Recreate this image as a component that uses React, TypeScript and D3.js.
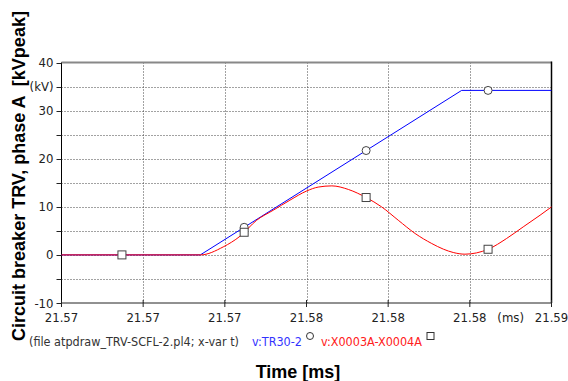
import React from 'react';
import * as d3 from 'd3';

// time axis (ms) and voltage axis (kV)
const xTicks = [21.568, 21.571, 21.574, 21.577, 21.58, 21.583, 21.586];
const xTickLabels = ['21.57', '21.57', '21.57', '21.58', '21.58', '21.58', '21.59'];
const yGrid = [-10, -5, 0, 5, 10, 15, 20, 25, 30, 35, 40];
const yLabelValues = [-10, 0, 10, 20, 30, 35, 40];
const yLabelTexts = ['-10', '0', '10', '20', '30', '(kV)', '40'];

// v:TR30-2
const blueT = [21.568, 21.5731, 21.5827, 21.586];
const blueV = [0, 0, 34.2, 34.2];

// v:X0003A-X0004A
const redT = [
  21.568, 21.5731, 21.57394, 21.57456, 21.57517, 21.57578, 21.57639, 21.57701,
  21.57743, 21.57793, 21.57854, 21.57919, 21.57976, 21.58037, 21.58099, 21.5816,
  21.58203, 21.58239, 21.58282, 21.58325, 21.58368, 21.58435, 21.58496, 21.58558, 21.586,
];
const redV = [
  0, 0, 1.66, 3.89, 7.21, 9.29, 11.37, 13.3,
  14.1, 14.35, 13.6, 11.93, 9.98, 7.21, 4.45, 2.37,
  1.19, 0.5, 0.15, 0.42, 1.19, 3.41, 5.82, 8.25, 9.98,
];

// marker positions along the curves
const markerT = [21.57022, 21.57471, 21.57919, 21.58367];

const legendFile = '(file atpdraw_TRV-SCFL-2.pl4; x-var t)';
const legendNames = ['v:TR30-2', 'v:X0003A-X0004A'];

const W = 568;
const H = 381;
const FONT = '"DejaVu Sans Condensed", "Liberation Sans", sans-serif';
const BOLD = '"Liberation Sans", Arial, sans-serif';

const interp = (ts: number[], vs: number[], t: number) => {
  const i = Math.max(1, d3.bisectLeft(ts, t));
  const t0 = ts[i - 1], t1 = ts[i];
  return vs[i - 1] + ((vs[i] - vs[i - 1]) * (t - t0)) / (t1 - t0);
};

export default function App() {
  const x = d3.scaleLinear().domain([21.568, 21.586]).range([61.5, 551.5]);
  const y = d3.scaleLinear().domain([-10, 40]).range([303, 62.5]);

  const blueLine = d3.line<number>()
    .x((_, i) => x(blueT[i]))
    .y(d => y(d));
  const redLine = d3.line<number>()
    .x((_, i) => x(redT[i]))
    .y(d => y(d))
    .curve(d3.curveMonotoneX);

  const [x0, x1] = x.range();
  const [yb, yt] = y.range();

  return (
    <svg width={W} height={H} style={{ position: 'absolute', left: 0, top: 0, background: '#fff' }}>
      {/* grid */}
      <g stroke="#444" strokeWidth={1} strokeDasharray="1 2">
        {xTicks.slice(1, -1).map((t, i) => (
          <line key={'gx' + i} x1={Math.round(x(t)) + 0.5} x2={Math.round(x(t)) + 0.5} y1={yt} y2={yb} />
        ))}
        {yGrid.slice(1, -1).map((v, i) => (
          <line key={'gy' + i} x1={x0} x2={x1} y1={Math.round(y(v)) + 0.5} y2={Math.round(y(v)) + 0.5} />
        ))}
      </g>

      {/* frame */}
      <line x1={x0} x2={x1} y1={yt} y2={yt} stroke="#888" strokeWidth={2} />
      <line x1={x0} x2={x0} y1={yt} y2={yb} stroke="#000" strokeWidth={1} />
      <line x1={x1} x2={x1} y1={yt - 1} y2={yb} stroke="#000" strokeWidth={1.5} />
      <line x1={x0} x2={x1} y1={yb} y2={yb} stroke="#222" strokeWidth={1} />

      {/* y ticks */}
      <g fontFamily={FONT} fontSize={13} fill="#222" textAnchor="end">
        {yGrid.map((v, i) => (
          <line key={'ty' + i} x1={x0 - 5} x2={x0} y1={Math.round(y(v)) + 0.5} y2={Math.round(y(v)) + 0.5} stroke="#222" />
        ))}
        {yLabelValues.map((v, i) => (
          <text key={'ly' + i} x={x0 - 8} y={y(v)} dy="0.35em">{yLabelTexts[i]}</text>
        ))}
      </g>

      {/* x ticks */}
      <g fontFamily={FONT} fontSize={13} fill="#222" textAnchor="middle">
        {xTicks.map((t, i) => (
          <g key={'tx' + i}>
            <line x1={x(t)} x2={x(t)} y1={yb - 3} y2={yb + 4} stroke="#222" />
            <text x={x(t)} y={yb + 19}>{xTickLabels[i]}</text>
          </g>
        ))}
        <text x={(x(xTicks[5]) + x(xTicks[6])) / 2} y={yb + 19}>(ms)</text>
      </g>

      {/* curves */}
      <path d={blueLine(blueV) || ''} fill="none" stroke="#0000ff" strokeWidth={1} />
      {markerT.slice(1).map((t, i) => (
        <circle key={'c' + i} cx={x(t)} cy={y(interp(blueT, blueV, t))} r={4} fill="#fff" stroke="#444" />
      ))}
      <path d={redLine(redV) || ''} fill="none" stroke="#ff0000" strokeWidth={1} />
      {markerT.map((t, i) => (
        <rect key={'s' + i} x={x(t) - 4} y={y(interp(redT, redV, t)) - 4} width={8} height={8} fill="#fff" stroke="#444" />
      ))}

      {/* legend */}
      <g fontFamily={FONT} fontSize={12.5}>
        <text x={29} y={346} fill="#333">{legendFile}</text>
        <text x={252} y={346} fill="#3333ff">{legendNames[0]}</text>
        <circle cx={310} cy={336} r={3.5} fill="#fff" stroke="#333" />
        <text x={321} y={346} fill="#ff2020">{legendNames[1]}</text>
        <rect x={427} y={332.5} width={7} height={7} fill="#fff" stroke="#333" />
      </g>

      {/* axis titles */}
      <text
        transform="translate(25,176) rotate(-90)"
        textAnchor="middle"
        fontFamily={BOLD}
        fontWeight="bold"
        fontSize={18}
        fill="#000"
        style={{ whiteSpace: 'pre' }}
      >
        {'Circuit breaker TRV, phase A  [kVpeak]'}
      </text>
      <text x={298} y={378} textAnchor="middle" fontFamily={BOLD} fontWeight="bold" fontSize={18} fill="#000">
        Time [ms]
      </text>
    </svg>
  );
}
